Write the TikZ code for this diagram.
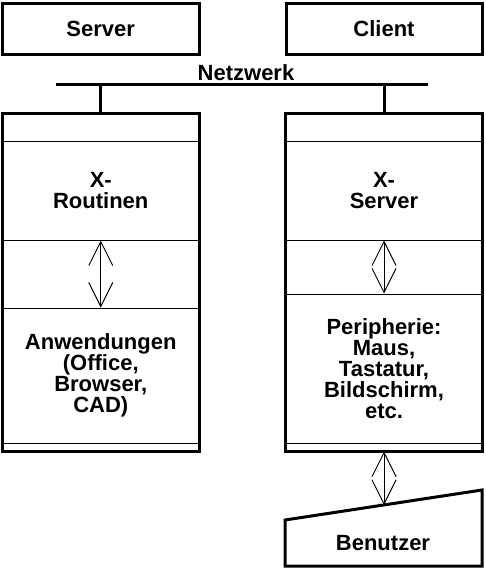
\documentclass[tikz,border=0pt]{standalone}
\usepackage{fontspec}
\setmainfont{Liberation Sans}
\usetikzlibrary{
    positioning,
    arrows.meta
}
\newcommand{\lbl}{\fontsize{22}{21}\selectfont\bfseries}
\tikzset{
    >={Straight Barb[length=24pt,width=24pt]},
    box/.style={
        draw,
        line width=3pt,
        minimum width=196pt,
        minimum height=51pt,
        inner sep=0pt,
        font=\lbl
    },
    cell/.style={
        draw,
        line width=1pt,
        inner sep=0pt,
        align=center,
        font=\lbl
    },
    frame/.style={draw, line width=3pt},
    link/.style={<->, line width=1pt}
}

\begin{document}
\begin{tikzpicture}[
    x=1pt,
    y=-1pt
]
    \useasboundingbox (0,0) rectangle (485,568);

    % Rechner
    \node[box] (server) at (100.75,28.5) [minimum width=196.5pt] {Server};
    \node[box] (client) at (384,28.5)                           {Client};

    % Netzwerk
    \coordinate (netw) at (56,84);
    \coordinate (nete) at (428,84);
    \node[font=\lbl, anchor=base, inner sep=0pt] (netlabel) at (246,80) {Netzwerk};

    % Schichten links
    \node[cell, minimum width=196.5pt, minimum height=28pt]    (lnet)  at (100.75,127.5)  {};
    \node[cell, minimum width=196.5pt, minimum height=98.5pt]  (lx)    at (100.75,190.75) {X-\\Routinen};
    \node[cell, minimum width=196.5pt, minimum height=68pt]    (larr)  at (100.75,274)    {};
    \node[cell, minimum width=196.5pt, minimum height=135.5pt] (lapp)  at (100.75,375.75) {Anwendungen\\(Office,\\Browser,\\CAD)};
    \node[cell, minimum width=196.5pt, minimum height=7.5pt]   (lfoot) at (100.75,447.25) {};

    % Schichten rechts
    \node[cell, minimum width=196pt, minimum height=28pt]    (rnet)  at (384,127.5)  {};
    \node[cell, minimum width=196pt, minimum height=98.5pt]  (rx)    at (384,190.75) {X-\\Server};
    \node[cell, minimum width=196pt, minimum height=54pt]    (rarr)  at (384,267)    {};
    \node[cell, minimum width=196pt, minimum height=149.5pt] (rperi) at (384,368.75) {Peripherie:\\Maus,\\Tastatur,\\Bildschirm,\\etc.};
    \node[cell, minimum width=196pt, minimum height=7.5pt]   (rfoot) at (384,447.25) {};

    \draw[frame] (lnet.north west) rectangle (lfoot.south east);
    \draw[frame] (rnet.north west) rectangle (rfoot.south east);

    % Benutzer
    \coordinate (ubl) at (285,566);
    \coordinate (utl) at (285,520);
    \coordinate (utr) at (482,490);
    \coordinate (ubr) at (482,566);
    \coordinate (utop) at (384,505);
    \draw[frame] (utl) -- (utr) -- (ubr) -- (ubl) -- cycle;
    \node[font=\lbl, anchor=base, inner sep=0pt] (user) at (383,550) {Benutzer};

    % Verbindungen
    \draw[line width=3pt] (netw) -- (nete);
    \draw[line width=3pt] (lnet.north) -- (lnet.north |- netw);
    \draw[line width=3pt] (rnet.north) -- (rnet.north |- nete);

    \draw[link] (lx.south) -- (lapp.north);
    \draw[link] (rx.south) -- (rperi.north);
    \draw[link] (rfoot.south) -- (utop);

\end{tikzpicture}
\end{document}
